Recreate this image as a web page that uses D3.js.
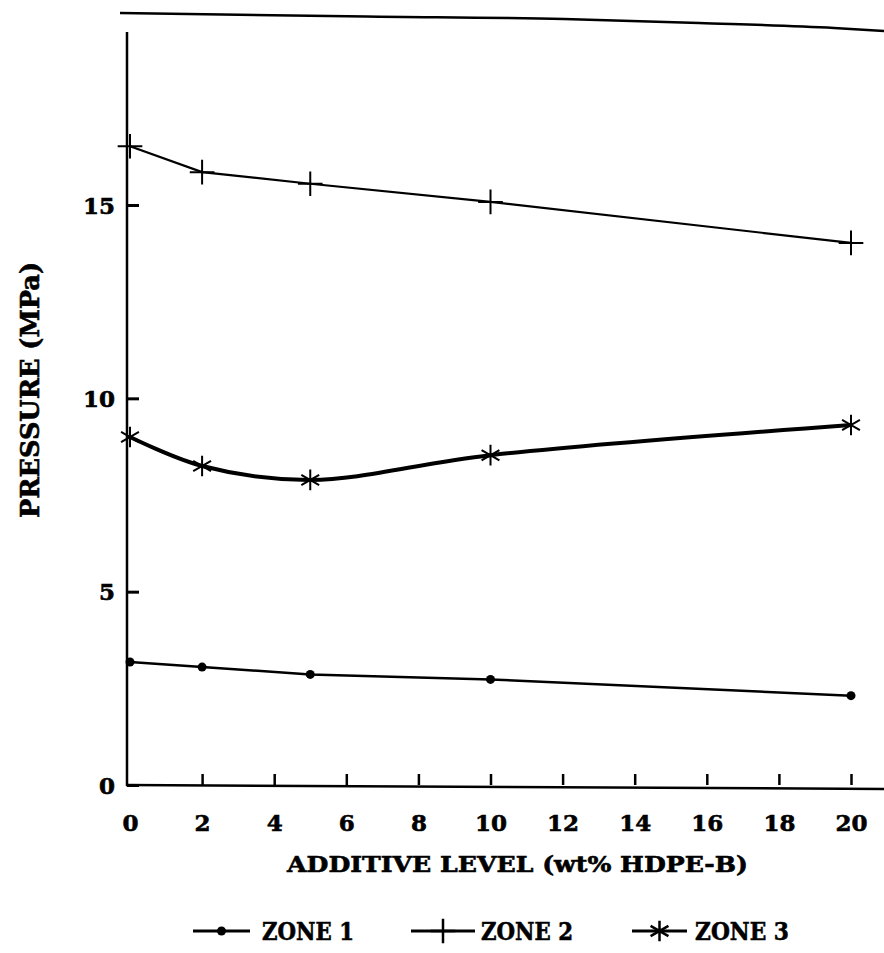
<!DOCTYPE html>
<html>
<head>
<meta charset="utf-8">
<script src="https://cdn.jsdelivr.net/npm/d3@7"></script>
<style>
  html, body { margin: 0; padding: 0; background: #fff; }
  svg { display: block; }
  text { font-family: "DejaVu Serif", "Liberation Serif", serif; font-weight: bold; fill: #000; stroke: #000; stroke-width: 0.6px; }
</style>
</head>
<body>
<svg id="chart" width="884" height="953"></svg>
<script>
// ---- data ----
const additiveLevel = [0, 2, 5, 10, 20];
const zone1 = [3.18, 3.05, 2.86, 2.73, 2.31];
const zone2 = [16.52, 15.85, 15.55, 15.08, 14.02];
const zone3 = [9.0, 8.25, 7.89, 8.53, 9.31];
const xTickValues = [0, 2, 4, 6, 8, 10, 12, 14, 16, 18, 20];
const yTickValues = [0, 5, 10, 15];
const seriesNames = ["ZONE 1", "ZONE 2", "ZONE 3"];
const xTitle = "ADDITIVE LEVEL (wt% HDPE-B)";
const yTitle = "PRESSURE (MPa)";

// ---- layout ----
const W = 884, H = 953;
const svg = d3.select("#chart");
const x = d3.scaleLinear().domain([0, 20]).range([130, 851]);
const y = d3.scaleLinear().domain([0, 15]).range([785, 205]);
const yTop = y.invert(32);

// top border (scanned frame edge)
svg.append("path")
  .attr("d", d3.line().curve(d3.curveMonotoneX)([[120, 13], [366, 16.5], [564, 19], [699, 23], [834, 28], [884, 31]]))
  .attr("fill", "none").attr("stroke", "#000").attr("stroke-width", 2.5);

// y axis
const yAxis = d3.axisLeft(y).tickValues(yTickValues).tickSizeInner(-12).tickSizeOuter(0).tickPadding(12).tickFormat(d3.format("d"));
const gy = svg.append("g").attr("transform", `translate(${x(0) - 3},0)`).call(yAxis);
gy.select(".domain").remove();
gy.selectAll(".tick line").attr("stroke", "#000").attr("stroke-width", 3);
gy.selectAll(".tick text").attr("font-size", 23).attr("font-family", "DejaVu Serif").attr("font-weight", "bold").attr("dy", "0.36em");
svg.append("line")
  .attr("x1", x(0) - 3).attr("x2", x(0) - 3)
  .attr("y1", y(yTop)).attr("y2", y(0) + 1)
  .attr("stroke", "#000").attr("stroke-width", 2.5);

// x axis
const xAxis = d3.axisBottom(x).tickValues(xTickValues).tickSizeInner(-11).tickSizeOuter(0).tickPadding(30).tickFormat(d3.format("d"));
const gx = svg.append("g").attr("transform", `translate(0,${y(0)})`).call(xAxis);
gx.select(".domain").remove();
gx.selectAll(".tick line").attr("stroke", "#000").attr("stroke-width", 2.5);
gx.selectAll(".tick text").attr("font-size", 23).attr("font-family", "DejaVu Serif").attr("font-weight", "bold");
gx.selectAll(".tick").filter(d => d === 0).select("line").remove();
svg.append("line")
  .attr("x1", x(0) - 4).attr("x2", W)
  .attr("y1", y(0)).attr("y2", y(0) + 4)
  .attr("stroke", "#000").attr("stroke-width", 2.5);

// titles
svg.append("text")
  .attr("x", 287).attr("y", 872)
  .attr("font-size", 23)
  .attr("textLength", 461).attr("lengthAdjust", "spacingAndGlyphs")
  .text(xTitle);
svg.append("text")
  .attr("transform", "translate(39,518) rotate(-90)")
  .attr("font-size", 26)
  .attr("textLength", 256).attr("lengthAdjust", "spacingAndGlyphs")
  .text(yTitle);

// series
const pts = vals => additiveLevel.map((a, i) => [x(a), y(vals[i])]);
const lineStraight = d3.line();
const lineSmooth = d3.line().curve(d3.curveCatmullRom.alpha(0.5));

svg.append("path").attr("d", lineStraight(pts(zone1)))
  .attr("fill", "none").attr("stroke", "#000").attr("stroke-width", 2.5);
svg.append("path").attr("d", lineStraight(pts(zone2)))
  .attr("fill", "none").attr("stroke", "#000").attr("stroke-width", 2.2);
svg.append("path").attr("d", lineSmooth(pts(zone3)))
  .attr("fill", "none").attr("stroke", "#000").attr("stroke-width", 4);

const plusSym = d3.symbol().type(d3.symbolPlus).size(200);
const astSym = d3.symbol().type(d3.symbolAsterisk).size(300);

svg.append("g").selectAll("circle").data(pts(zone1)).join("circle")
  .attr("cx", d => d[0]).attr("cy", d => d[1]).attr("r", 4.5).attr("fill", "#000");
svg.append("g").selectAll("path").data(pts(zone2)).join("path")
  .attr("transform", d => `translate(${d[0]},${d[1]})`)
  .attr("d", plusSym).attr("fill", "none").attr("stroke", "#000").attr("stroke-width", 2);
svg.append("g").selectAll("path").data(pts(zone3)).join("path")
  .attr("transform", d => `translate(${d[0]},${d[1]})`)
  .attr("d", astSym).attr("fill", "none").attr("stroke", "#000").attr("stroke-width", 2);

// legend
const legendY = 931;
const legendItems = [
  { x0: 193, x1: 250, sym: "dot", tx: 262, tl: 92 },
  { x0: 411, x1: 475, sym: "plus", tx: 481, tl: 92 },
  { x0: 632, x1: 687, sym: "ast", tx: 695, tl: 94 }
];
const lg = svg.append("g");
legendItems.forEach((it, i) => {
  lg.append("line").attr("x1", it.x0).attr("x2", it.x1).attr("y1", legendY).attr("y2", legendY)
    .attr("stroke", "#000").attr("stroke-width", 3);
  const cx = (it.x0 + it.x1) / 2;
  if (it.sym === "dot") {
    lg.append("circle").attr("cx", cx).attr("cy", legendY).attr("r", 4.5).attr("fill", "#000");
  } else if (it.sym === "plus") {
    lg.append("path").attr("transform", `translate(${cx},${legendY})`).attr("d", plusSym)
      .attr("fill", "none").attr("stroke", "#000").attr("stroke-width", 2.5);
  } else {
    lg.append("path").attr("transform", `translate(${cx},${legendY})`).attr("d", astSym)
      .attr("fill", "none").attr("stroke", "#000").attr("stroke-width", 2.5);
  }
  lg.append("text").attr("x", it.tx).attr("y", legendY + 9)
    .attr("font-size", 25).attr("textLength", it.tl).attr("lengthAdjust", "spacingAndGlyphs")
    .text(seriesNames[i]);
});
</script>
</body>
</html>
